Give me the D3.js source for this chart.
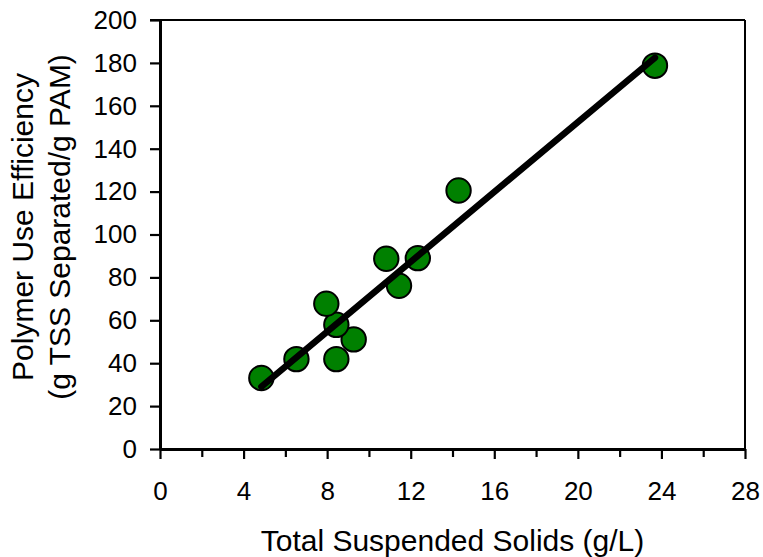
<!DOCTYPE html>
<html>
<head>
<meta charset="utf-8">
<script src="https://cdn.jsdelivr.net/npm/d3@7"></script>
<style>
    html, body { margin: 0; padding: 0; background: #fff; }
    svg { display: block; }
</style>
</head>
<body>
<svg id="chart" width="763" height="557"></svg>
<script>
(function () {
    'use strict';

    // values
    var tss = [4.85, 6.53, 8.44, 9.27, 8.44, 7.96, 11.44, 10.83, 12.34, 14.29, 23.69];
    var efficiency = [33.1, 41.9, 41.9, 51.1, 57.9, 67.7, 76.1, 88.7, 89.0, 120.5, 178.7];
    var xMajorTicks = [0, 4, 8, 12, 16, 20, 24, 28];
    var xMinorTicks = [2, 6, 10, 14, 18, 22, 26];
    var yTicks = [0, 20, 40, 60, 80, 100, 120, 140, 160, 180, 200];
    var xTitle = 'Total Suspended Solids (g/L)';
    var yTitleLines = ['Polymer Use Efficiency', '(g TSS Separated/g PAM)'];

    var font = '"Liberation Sans", Arial, sans-serif';
    var pointFill = '#008000';

    var left = 160, right = 745, top = 20, bottom = 449;

    var svg = d3.select('#chart');

    var x = d3.scaleLinear().domain([0, 28]).range([left, right]);
    var y = d3.scaleLinear().domain([0, 200]).range([bottom, top]);

    // least squares fit through the points
    var mx = d3.mean(tss), my = d3.mean(efficiency);
    var sxy = d3.sum(tss, function (d, i) { return (d - mx) * (efficiency[i] - my); });
    var sxx = d3.sum(tss, function (d) { return (d - mx) * (d - mx); });
    var slope = sxy / sxx;
    var intercept = my - slope * mx;
    var fitX = d3.extent(tss);

    var points = tss.map(function (d, i) { return { x: d, y: efficiency[i] }; });

    // frame top and right
    svg.append('line')
        .attr('x1', left - 10).attr('x2', right)
        .attr('y1', top).attr('y2', top)
        .attr('stroke', '#000').attr('stroke-width', 2);
    svg.append('line')
        .attr('x1', right).attr('x2', right)
        .attr('y1', top).attr('y2', bottom)
        .attr('stroke', '#000').attr('stroke-width', 2);

    svg.append('g')
        .attr('transform', 'translate(0,' + bottom + ')')
        .call(d3.axisBottom(x).tickValues(xMajorTicks).tickSize(10).tickSizeOuter(0).tickPadding(23)
            .tickFormat(d3.format('d')));

    var xMinor = svg.append('g')
        .attr('transform', 'translate(0,' + bottom + ')')
        .call(d3.axisBottom(x).tickValues(xMinorTicks).tickSize(8).tickSizeOuter(0).tickFormat(''));
    xMinor.select('.domain').remove();

    svg.append('g')
        .attr('transform', 'translate(' + left + ',0)')
        .call(d3.axisLeft(y).tickValues(yTicks).tickSize(10).tickSizeOuter(0).tickPadding(13)
            .tickFormat(d3.format('d')));

    svg.selectAll('.domain').attr('stroke-width', 3);
    svg.selectAll('.tick line').attr('stroke-width', 2.2);
    svg.selectAll('.tick text')
        .style('font-family', font)
        .style('font-size', '26px')
        .attr('fill', '#000');

    // points
    svg.append('g').selectAll('circle')
        .data(points)
        .enter().append('circle')
        .attr('cx', function (d) { return x(d.x); })
        .attr('cy', function (d) { return y(d.y); })
        .attr('r', 12.2)
        .attr('fill', pointFill)
        .attr('stroke', '#000')
        .attr('stroke-width', 2);

    // trend line over the points
    svg.append('line')
        .attr('x1', x(fitX[0])).attr('y1', y(slope * fitX[0] + intercept))
        .attr('x2', x(fitX[1])).attr('y2', y(slope * fitX[1] + intercept))
        .attr('stroke', '#000')
        .attr('stroke-width', 6.5)
        .attr('stroke-linecap', 'round');

    // axis titles
    svg.append('text')
        .attr('x', (left + right) / 2)
        .attr('y', 551)
        .attr('text-anchor', 'middle')
        .style('font-family', font)
        .style('font-size', '30px')
        .text(xTitle);

    var yTitle = svg.append('text')
        .attr('transform', 'translate(33,227) rotate(-90)')
        .attr('text-anchor', 'middle')
        .style('font-family', font)
        .style('font-size', '30px');
    yTitle.selectAll('tspan')
        .data(yTitleLines)
        .enter().append('tspan')
        .attr('x', 0)
        .attr('y', function (d, i) { return i * 36.5; })
        .text(function (d) { return d; });
})();
</script>
</body>
</html>
